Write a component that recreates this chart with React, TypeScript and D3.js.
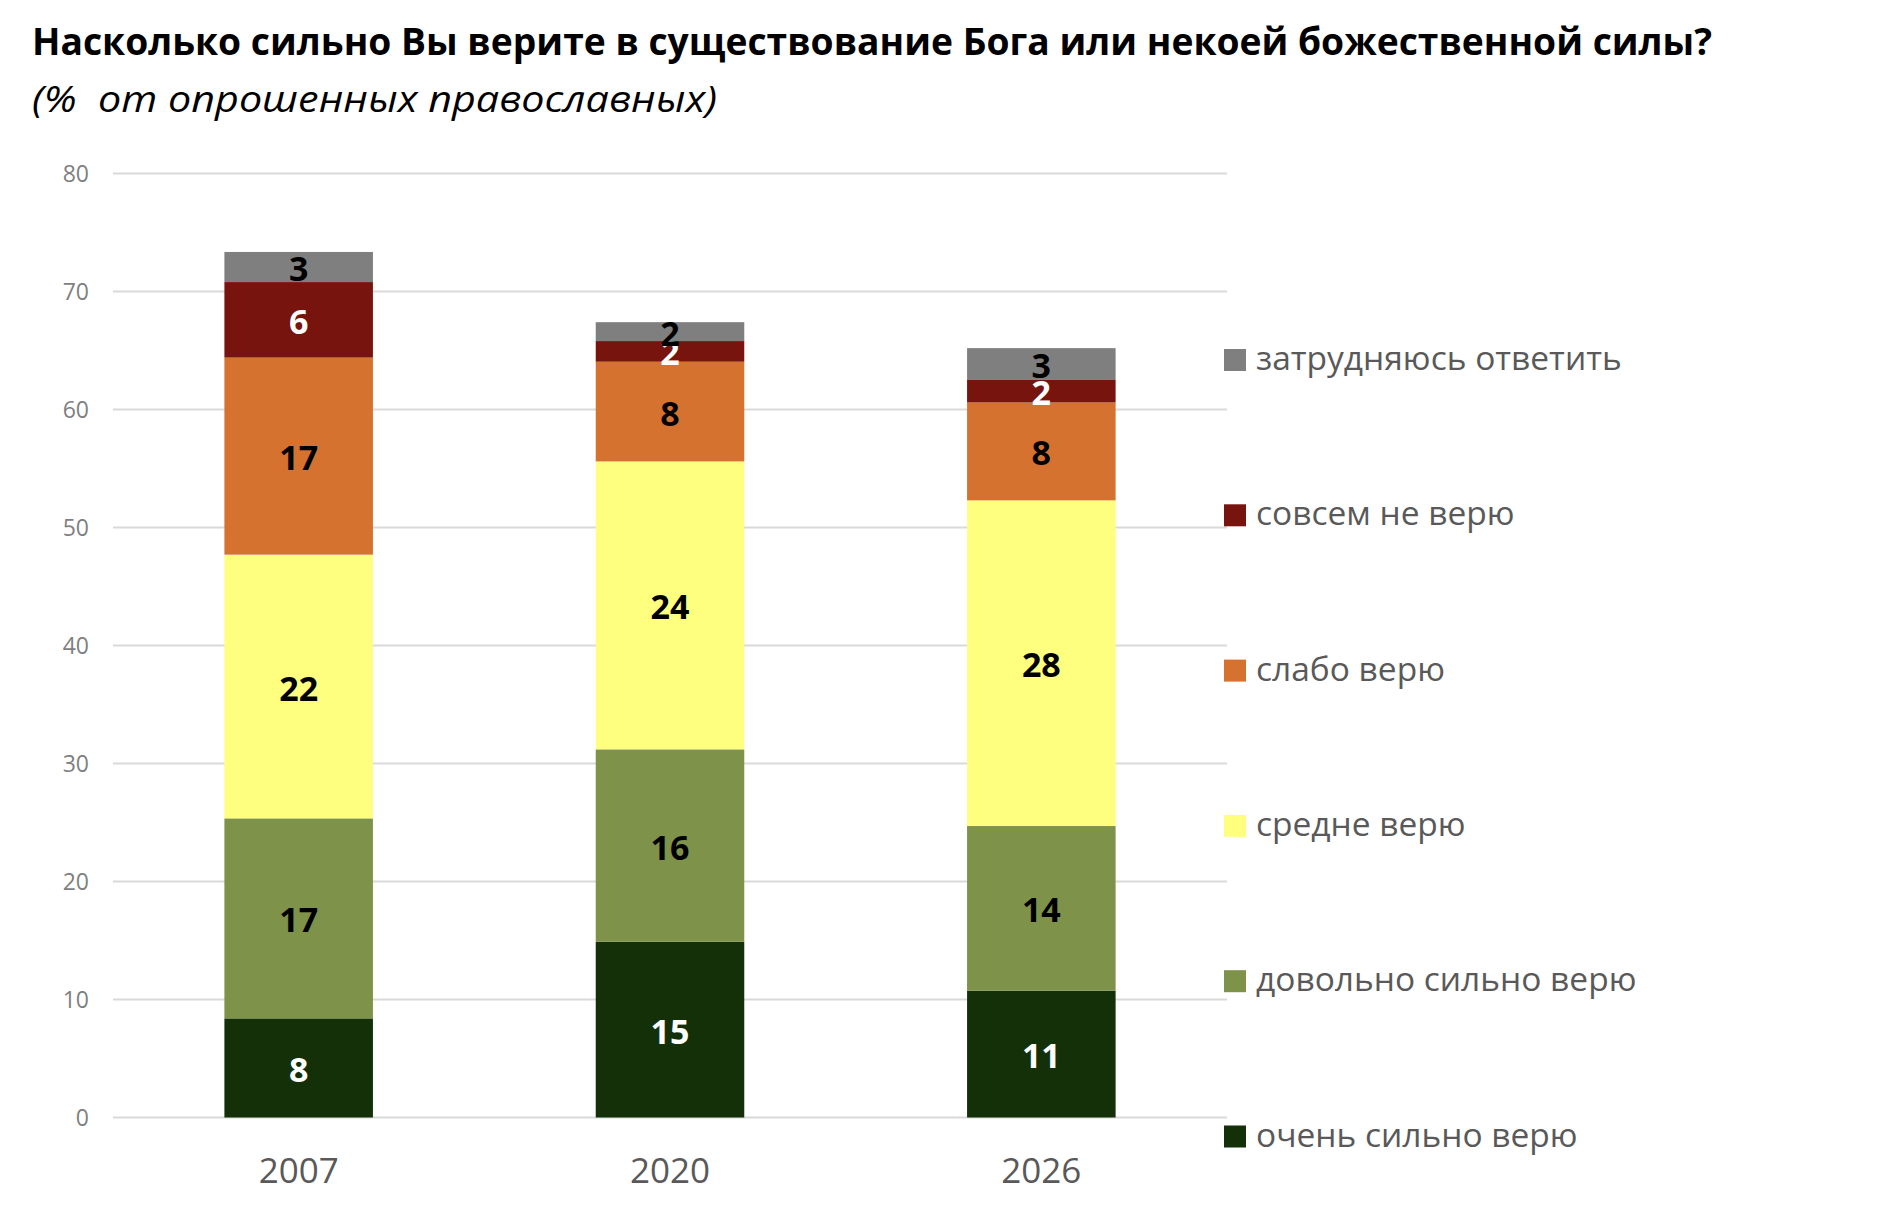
import React, { useEffect, useRef } from "react";
import * as d3 from "d3";

// chart data (percent of respondents)
const years = ["2007", "2020", "2026"];
const seriesNames = [
  "очень сильно верю",
  "довольно сильно верю",
  "средне верю",
  "слабо верю",
  "совсем не верю",
  "затрудняюсь ответить",
];
const veryStrong = [8.4, 14.9, 10.75];
const fairlyStrong = [16.95, 16.3, 13.95];
const medium = [22.35, 24.4, 27.6];
const weak = [16.7, 8.45, 8.3];
const notAtAll = [6.4, 1.75, 1.95];
const hardToSay = [2.55, 1.6, 2.65];
const yTicks = [0, 10, 20, 30, 40, 50, 60, 70, 80];

const colors = ["#133009", "#7e9249", "#ffff7f", "#d67230", "#78140e", "#7f7f7f"];
const labelColors = ["#ffffff", "#000000", "#000000", "#000000", "#ffffff", "#000000"];

const title = "Насколько сильно Вы верите в существование Бога или некоей божественной силы?";
const subtitle = "(%  от опрошенных православных)";

const FONT = "'Open Sans', 'Noto Sans', sans-serif";

export default function App() {
  const ref = useRef<SVGSVGElement>(null);
  const width = 1878;
  const height = 1216;

  useEffect(() => {
    const svg = d3.select(ref.current);
    svg.selectAll("*").remove();

    const rows = years.map((year, i) => ({
      year,
      s0: veryStrong[i],
      s1: fairlyStrong[i],
      s2: medium[i],
      s3: weak[i],
      s4: notAtAll[i],
      s5: hardToSay[i],
    }));
    const keys = ["s0", "s1", "s2", "s3", "s4", "s5"];

    const x = d3
      .scaleBand()
      .domain(years)
      .range([113, 1227])
      .paddingInner(0.6)
      .paddingOuter(0.3);
    const y = d3.scaleLinear().domain([0, 80]).range([1117.5, 173.5]);

    // title
    svg
      .append("text")
      .attr("x", 32)
      .attr("y", 55)
      .attr("font-family", FONT)
      .attr("font-weight", "bold")
      .attr("font-size", 37)
      .attr("textLength", 1680)
      .attr("lengthAdjust", "spacingAndGlyphs")
      .attr("fill", "#000")
      .text(title);
    svg
      .append("text")
      .attr("x", 32)
      .attr("y", 112)
      .attr("font-family", FONT)
      .attr("font-style", "italic")
      .attr("font-size", 36)
      .attr("textLength", 685)
      .attr("lengthAdjust", "spacingAndGlyphs")
      .attr("fill", "#000")
      .style("white-space", "pre")
      .text(subtitle);

    // gridlines + y tick labels
    const grid = svg.append("g");
    grid
      .selectAll("line")
      .data(yTicks)
      .enter()
      .append("line")
      .attr("x1", 113)
      .attr("x2", 1227)
      .attr("y1", (d) => y(d))
      .attr("y2", (d) => y(d))
      .attr("stroke", "#d9d9d9")
      .attr("stroke-width", 2);
    grid
      .selectAll("text")
      .data(yTicks)
      .enter()
      .append("text")
      .attr("x", 89)
      .attr("y", (d) => y(d) + 8)
      .attr("text-anchor", "end")
      .attr("font-family", FONT)
      .attr("font-size", 23)
      .attr("fill", "#7f7f7f")
      .text((d) => d);

    // stacked bars
    const stacked = d3.stack<any>().keys(keys)(rows);
    const layers = svg
      .selectAll("g.layer")
      .data(stacked)
      .enter()
      .append("g")
      .attr("class", "layer")
      .attr("fill", (_, i) => colors[i]);
    layers
      .selectAll("rect")
      .data((d) => d)
      .enter()
      .append("rect")
      .attr("x", (d) => x(d.data.year)!)
      .attr("width", x.bandwidth())
      .attr("y", (d) => y(d[1]))
      .attr("height", (d) => y(d[0]) - y(d[1]));

    // value labels
    stacked.forEach((layer, i) => {
      svg
        .append("g")
        .selectAll("text")
        .data(layer)
        .enter()
        .append("text")
        .attr("x", (d) => x(d.data.year)! + x.bandwidth() / 2)
        .attr("y", (d) => (y(d[0]) + y(d[1])) / 2 + 14)
        .attr("text-anchor", "middle")
        .attr("font-family", FONT)
        .attr("font-weight", "bold")
        .attr("font-size", 34)
        .attr("fill", labelColors[i])
        .text((d) => Math.round(d[1] - d[0]));
    });

    // x labels
    svg
      .append("g")
      .selectAll("text")
      .data(years)
      .enter()
      .append("text")
      .attr("x", (d) => x(d)! + x.bandwidth() / 2)
      .attr("y", 1183)
      .attr("text-anchor", "middle")
      .attr("font-family", FONT)
      .attr("font-size", 35)
      .attr("fill", "#595959")
      .text((d) => d);

    // legend, top item is the top of the stack
    const legendItems = seriesNames.map((name, i) => ({ name, color: colors[i] })).reverse();
    const legend = svg
      .append("g")
      .selectAll("g")
      .data(legendItems)
      .enter()
      .append("g")
      .attr("transform", (_, i) => `translate(1224, ${360 + i * 155.3})`);
    legend
      .append("rect")
      .attr("x", 0)
      .attr("y", -11)
      .attr("width", 22)
      .attr("height", 22)
      .attr("fill", (d) => d.color);
    legend
      .append("text")
      .attr("x", 32)
      .attr("y", 10)
      .attr("font-family", FONT)
      .attr("font-size", 33.5)
      .attr("fill", "#595959")
      .text((d) => d.name);
  }, []);

  return (
    <svg
      ref={ref}
      width={width}
      height={height}
      style={{ position: "absolute", left: 0, top: 0, background: "#fff" }}
    />
  );
}
